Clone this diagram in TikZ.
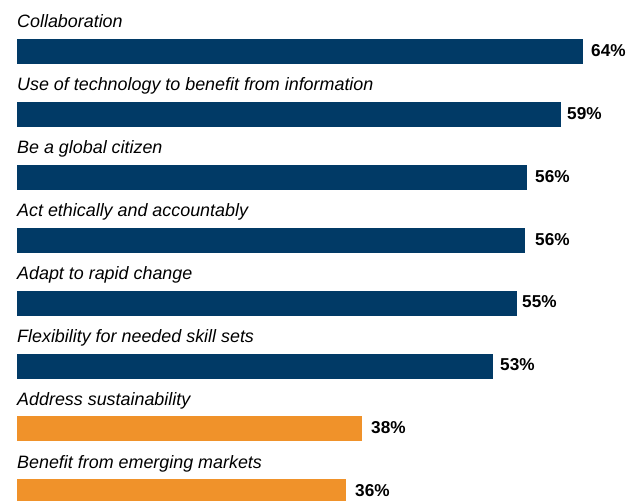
\documentclass[tikz,border=0pt]{standalone}
\usepackage{fontspec}
\setmainfont{Liberation Sans}
\definecolor{navybar}{RGB}{1,58,102}
\definecolor{orangebar}{RGB}{240,146,42}
\tikzstyle{item}=[anchor=base west,inner sep=0pt,font=\fontsize{17.9}{21}\selectfont\itshape]
\tikzstyle{bar}=[anchor=north west,inner sep=0pt,minimum height=25pt]
\tikzstyle{pct}=[anchor=base west,inner sep=0pt,font=\fontsize{17.2}{20}\selectfont\bfseries]

\begin{document}
\begin{tikzpicture}[x=1pt,y=-1pt]
    \useasboundingbox (0,0) rectangle (636,500);

    \def\dy{62.86};

    \foreach \i/\w/\px/\col/\txt/\val in {
        0/566/591/navybar/Collaboration/64,
        1/544/567/navybar/Use of technology to benefit from information/59,
        2/510/535/navybar/Be a global citizen/56,
        3/508/535/navybar/Act ethically and accountably/56,
        4/500/522/navybar/Adapt to rapid change/55,
        5/476/500/navybar/Flexibility for needed skill sets/53,
        6/345/371/orangebar/Address sustainability/38,
        7/329/355/orangebar/Benefit from emerging markets/36}
    {
        \node[item] (label\i) at (17, 28+\dy*\i) {\txt};
        \node[bar, fill=\col, minimum width=\w pt] (bar\i) at (17, 39+\dy*\i) {};
        \node[pct] (value\i) at (\px, 56.5+\dy*\i) {\val\%};
    }

\end{tikzpicture}
\end{document}
